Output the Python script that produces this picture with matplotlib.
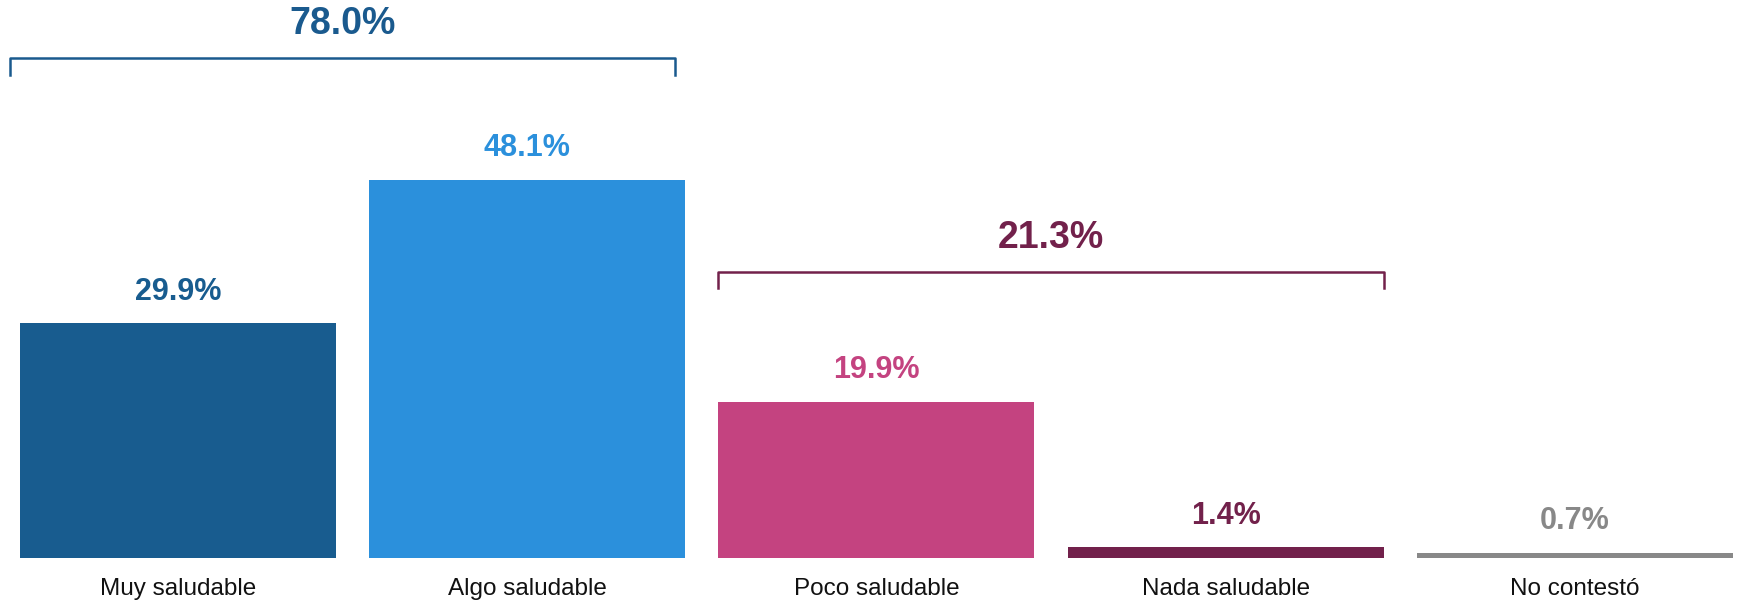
import matplotlib.pyplot as plt
import numpy as np

# data
categories = ['Muy saludable', 'Algo saludable', 'Poco saludable', 'Nada saludable', 'No contestó']
values = [29.9, 48.1, 19.9, 1.4, 0.7]
bar_colors = ['#185c8f', '#2b90dc', '#c44380', '#72214b', '#888888']

group_labels = ['78.0%', '21.3%']
group_members = [(0, 1), (2, 3)]
group_colors = ['#1a5a8e', '#72214b']

plt.rcParams['font.family'] = ['Liberation Sans', 'DejaVu Sans']

fig = plt.figure(figsize=(17.39, 6.04), dpi=100)
ax = fig.add_axes([0, 0, 1, 1])

x = np.arange(len(categories))
width = 0.905
ax.bar(x, values, width=width, color=bar_colors, zorder=2)

# value labels above bars
for xi, v, c in zip(x, values, bar_colors):
    ax.text(xi, v + 2.1, f'{v:.1f}%', ha='center', va='bottom',
            fontsize=22, fontweight='bold', color=c)

# category labels under the bars
for xi, cat in zip(x, categories):
    ax.text(xi, -4.0, cat, ha='center', va='center', fontsize=17.5, color='#111111')

# brackets over groups
bracket_offsets = [15.5, 16.5]
for (i, j), lab, c, off in zip(group_members, group_labels, group_colors, bracket_offsets):
    top = max(values[i:j + 1]) + off
    x0 = x[i] - width / 2 - (0.03 if i == 0 else 0)
    x1 = x[j] + width / 2 - (0.03 if i == 0 else 0)
    ax.plot([x0, x0, x1, x1], [top - 2.1, top, top, top - 2.1],
            color=c, lw=1.8, solid_joinstyle='round', zorder=3)
    ax.text((x0 + x1) / 2, top + 4.3, lab, ha='center', va='center',
            fontsize=27, fontweight='bold', color=c)

ax.set_xlim(-0.51, 4.47)
ax.set_ylim(-5.85, 71.0)
ax.axis('off')

fig.savefig('out.png', dpi=100)
